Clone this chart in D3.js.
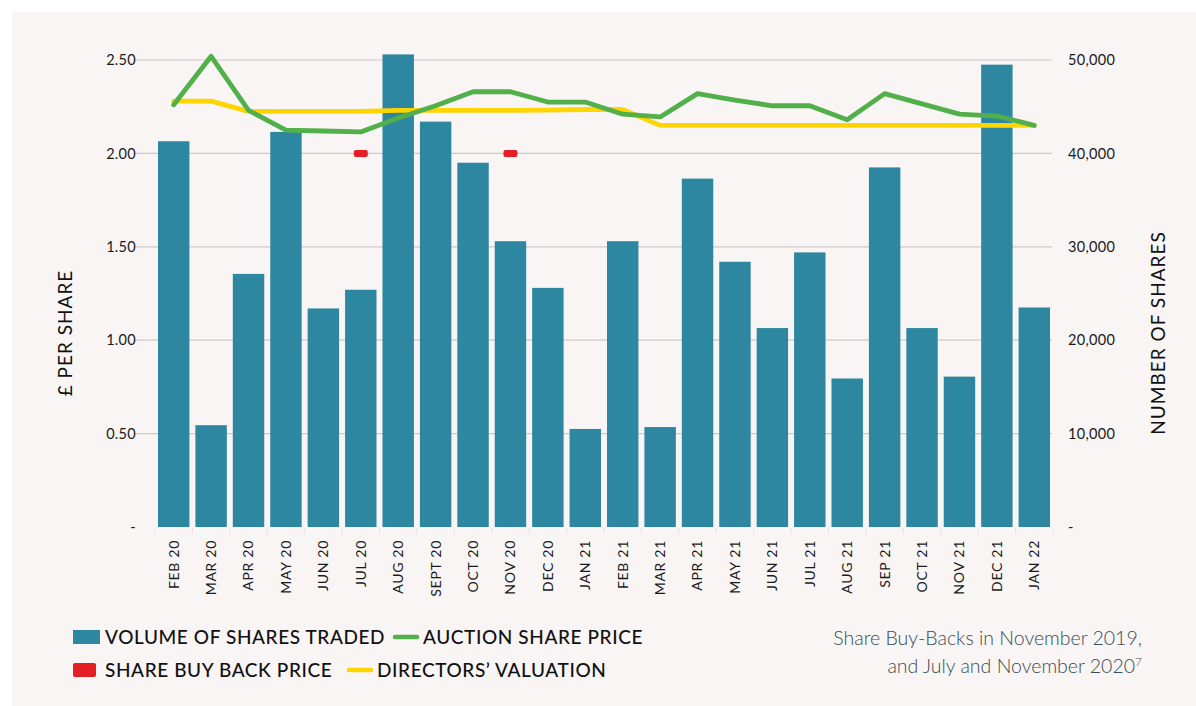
<!DOCTYPE html>
<html>
<head>
<meta charset="utf-8">
<script src="https://cdn.jsdelivr.net/npm/d3@7"></script>
<style>
  html, body { margin:0; padding:0; background:#fff; }
  svg { display:block; }
  text { font-family: Lato, "Open Sans", sans-serif; }
</style>
</head>
<body>
<div id="chart"></div>
<script>
// months along the bottom
const months = ['FEB 20','MAR 20','APR 20','MAY 20','JUN 20','JUL 20','AUG 20','SEPT 20','OCT 20','NOV 20','DEC 20',
  'JAN 21','FEB 21','MAR 21','APR 21','MAY 21','JUN 21','JUL 21','AUG 21','SEP 21','OCT 21','NOV 21','DEC 21','JAN 22'];
// number of shares traded (right axis)
const volume = [41300,10900,27100,42300,23400,25400,50600,43400,39000,30600,25600,
  10500,30600,10700,37300,28400,21300,29400,15900,38500,21300,16100,49500,23500];
// £ per share (left axis)
const auction = [2.26,2.52,2.23,2.125,2.12,2.115,2.19,2.255,2.33,2.33,2.275,
  2.275,2.21,2.195,2.32,2.285,2.255,2.255,2.18,2.32,2.265,2.21,2.20,2.15];
const directors = [2.28,2.28,2.225,2.225,2.225,2.225,2.23,2.23,2.23,2.23,2.232,
  2.235,2.235,2.15,2.15,2.15,2.15,2.15,2.15,2.15,2.15,2.15,2.15,2.15];
const buyBack = [{month:'JUL 20', price:2.00},{month:'NOV 20', price:2.00}];
const leftTicks = [0,0.5,1,1.5,2,2.5];
const rightTicks = [0,10000,20000,30000,40000,50000];

const W = 1196, H = 706;
const svg = d3.select('#chart').append('svg').attr('width', W).attr('height', H);

svg.append('rect').attr('x',12).attr('y',12).attr('width',W-12).attr('height',H-12).attr('fill','#f8f5f4');

const x = d3.scaleBand().domain(months).range([152,1056]).padding(0.16);
const yL = d3.scaleLinear().domain([0,2.5]).range([527,60]);
const yR = d3.scaleLinear().domain([0,50000]).range([527,60]);

// gridlines
svg.append('g')
  .selectAll('line')
  .data(leftTicks.filter(d=>d>0))
  .enter().append('line')
  .attr('x1',135).attr('x2',1052)
  .attr('y1',d=>yL(d)).attr('y2',d=>yL(d))
  .attr('stroke','#d3c8c8').attr('stroke-width',1.2);

// small separators under the bars
const step = x.step();
svg.append('g')
  .selectAll('line')
  .data(months.concat(['end']))
  .enter().append('line')
  .attr('x1',(d,i)=> x.range()[0] + step*x.paddingOuter() + i*step - step*x.paddingInner()/2)
  .attr('x2',(d,i)=> x.range()[0] + step*x.paddingOuter() + i*step - step*x.paddingInner()/2)
  .attr('y1',528).attr('y2',534)
  .attr('stroke','#e8e0df').attr('stroke-width',1);

// bars
svg.append('g')
  .selectAll('rect')
  .data(months)
  .enter().append('rect')
  .attr('x',d=>x(d))
  .attr('y',(d,i)=>yR(volume[i]))
  .attr('width',x.bandwidth())
  .attr('height',(d,i)=>yR(0)-yR(volume[i]))
  .attr('fill','#2e87a0');

const cx = d => x(d) + x.bandwidth()/2;

// directors' valuation
svg.append('path')
  .datum(directors)
  .attr('d', d3.line().x((d,i)=>cx(months[i])).y(d=>yL(d)))
  .attr('fill','none').attr('stroke','#ffd500').attr('stroke-width',4.8)
  .attr('stroke-linejoin','round').attr('stroke-linecap','round');

// auction share price
svg.append('path')
  .datum(auction)
  .attr('d', d3.line().x((d,i)=>cx(months[i])).y(d=>yL(d)))
  .attr('fill','none').attr('stroke','#52b04a').attr('stroke-width',4.8)
  .attr('stroke-linejoin','round').attr('stroke-linecap','round');

// share buy back price
svg.append('g')
  .selectAll('rect')
  .data(buyBack)
  .enter().append('rect')
  .attr('x',d=>cx(d.month)-7).attr('y',d=>yL(d.price)-3.5)
  .attr('width',14).attr('height',7).attr('rx',2)
  .attr('fill','#e31e25');

// axes
const leftAxis = svg.append('g')
  .attr('transform','translate(136,0)')
  .call(d3.axisLeft(yL).tickValues(leftTicks).tickSize(0).tickPadding(0)
    .tickFormat(d => d===0 ? '-' : d3.format('.2f')(d)));
leftAxis.select('.domain').remove();
leftAxis.selectAll('text').attr('font-size',14.5).attr('fill','#1a1a1a').attr('font-family','Lato, sans-serif')
  .style('letter-spacing','0.3px');

const rightAxis = svg.append('g')
  .attr('transform','translate(1068,0)')
  .call(d3.axisRight(yR).tickValues(rightTicks).tickSize(0).tickPadding(0)
    .tickFormat(d => d===0 ? '-' : d3.format(',')(d)));
rightAxis.select('.domain').remove();
rightAxis.selectAll('text').attr('font-size',14.5).attr('fill','#1a1a1a').attr('font-family','Lato, sans-serif')
  .style('letter-spacing','0.3px');

const bottomAxis = svg.append('g')
  .attr('transform','translate(0,540)')
  .call(d3.axisBottom(x).tickSize(0).tickPadding(0));
bottomAxis.select('.domain').remove();
bottomAxis.selectAll('text')
  .attr('transform','rotate(-90)')
  .attr('x',0).attr('y',0).attr('dy','0.35em')
  .style('text-anchor','end')
  .style('letter-spacing','0.7px')
  .attr('font-size',14).attr('fill','#1a1a1a').attr('font-family','Lato, sans-serif');

// axis titles
svg.append('text')
  .attr('transform','translate(72,333) rotate(-90)')
  .attr('text-anchor','middle')
  .attr('font-size',19).attr('fill','#111')
  .style('letter-spacing','1px')
  .text('£ PER SHARE');
svg.append('text')
  .attr('transform','translate(1165,333) rotate(-90)')
  .attr('text-anchor','middle')
  .attr('font-size',19).attr('fill','#111')
  .style('letter-spacing','1px')
  .text('NUMBER OF SHARES');

// legend
const legend = [
  {label:'VOLUME OF SHARES TRADED', type:'box', color:'#2e87a0', x:73, y:637},
  {label:'AUCTION SHARE PRICE', type:'line', color:'#52b04a', x:393, y:637},
  {label:'SHARE BUY BACK PRICE', type:'box', color:'#e31e25', x:73, y:670},
  {label:'DIRECTORS\u2019 VALUATION', type:'line', color:'#ffd500', x:347, y:670}
];
const lg = svg.append('g').selectAll('g').data(legend).enter().append('g')
  .attr('transform',d=>`translate(${d.x},${d.y})`);
lg.filter(d=>d.type==='box').append('rect')
  .attr('x',0).attr('y',-7).attr('width',d=>d.color==='#e31e25'?23:27).attr('height',14)
  .attr('rx',d=>d.color==='#e31e25'?2:0)
  .attr('fill',d=>d.color);
lg.filter(d=>d.type==='line').append('line')
  .attr('x1',2).attr('x2',24).attr('y1',0).attr('y2',0)
  .attr('stroke',d=>d.color).attr('stroke-width',4.5).attr('stroke-linecap','round');
lg.append('text')
  .attr('x',d=>d.type==='box'?32:30).attr('y',0).attr('dy','0.36em')
  .attr('font-size',19).attr('font-weight',500).attr('fill','#111')
  .style('letter-spacing','0.6px')
  .text(d=>d.label);

// note
const note = svg.append('g').attr('font-family','Roboto, "Liberation Sans", sans-serif')
  .attr('font-weight',300).attr('fill','#3a4d55').attr('font-size',19.5).attr('text-anchor','end');
note.append('text').attr('x',1142).attr('y',645).text('Share Buy-Backs in November 2019,');
const l2 = note.append('text').attr('x',1142).attr('y',673);
l2.append('tspan').text('and July and November 2020');
l2.append('tspan').attr('font-size',12).attr('dy','-7').text('7');
</script>
</body>
</html>
